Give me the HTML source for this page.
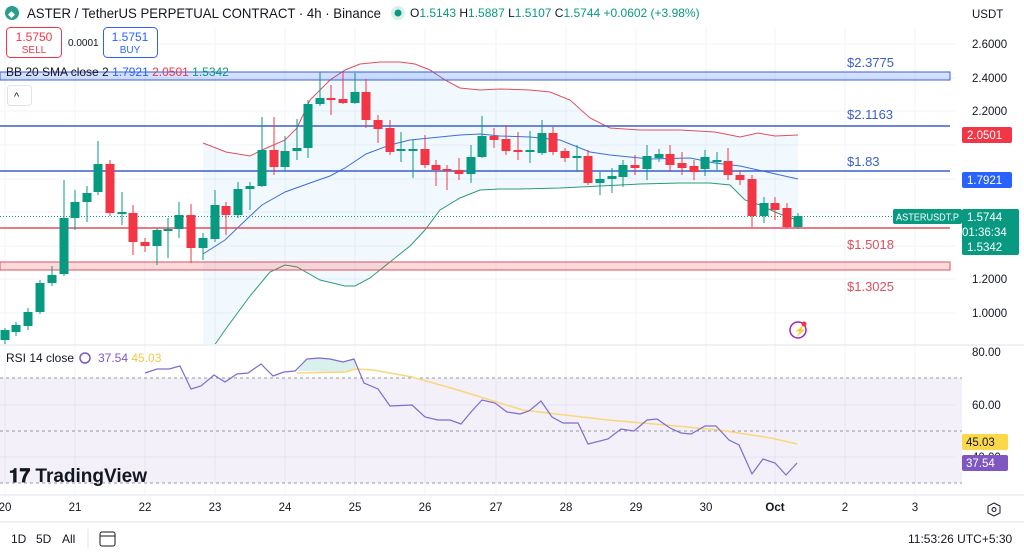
<!DOCTYPE html>
<html><head><meta charset="utf-8"><style>
body{margin:0;width:1024px;height:554px;overflow:hidden;background:#fff;font-family:"Liberation Sans",sans-serif;}
svg{position:absolute;left:0;top:0}
</style></head><body>
<svg id="s" width="1024" height="554" xmlns="http://www.w3.org/2000/svg" font-family="Liberation Sans, sans-serif">
<g stroke="#f0f3fa" stroke-width="1">
<line x1="5" y1="28" x2="5" y2="495"/><line x1="75" y1="28" x2="75" y2="495"/><line x1="145" y1="28" x2="145" y2="495"/><line x1="215" y1="28" x2="215" y2="495"/><line x1="285" y1="28" x2="285" y2="495"/><line x1="355" y1="28" x2="355" y2="495"/><line x1="425" y1="28" x2="425" y2="495"/><line x1="496" y1="28" x2="496" y2="495"/><line x1="566" y1="28" x2="566" y2="495"/><line x1="636" y1="28" x2="636" y2="495"/><line x1="706" y1="28" x2="706" y2="495"/><line x1="775" y1="28" x2="775" y2="495"/><line x1="845" y1="28" x2="845" y2="495"/><line x1="915" y1="28" x2="915" y2="495"/>
<line x1="0" y1="44" x2="955" y2="44"/><line x1="0" y1="78" x2="955" y2="78"/><line x1="0" y1="111" x2="955" y2="111"/><line x1="0" y1="145" x2="955" y2="145"/><line x1="0" y1="179" x2="955" y2="179"/><line x1="0" y1="212" x2="955" y2="212"/><line x1="0" y1="246" x2="955" y2="246"/><line x1="0" y1="279" x2="955" y2="279"/><line x1="0" y1="313" x2="955" y2="313"/>
<line x1="0" y1="405" x2="955" y2="405"/><line x1="0" y1="457" x2="955" y2="457"/>
</g>
<line x1="0" y1="345" x2="1024" y2="345" stroke="#e0e3eb"/>
<line x1="0" y1="495" x2="1024" y2="495" stroke="#e0e3eb"/>
<line x1="0" y1="522" x2="1024" y2="522" stroke="#e0e3eb"/>
<g id="bb"></g>
<rect x="0" y="72" width="950" height="8" fill="#2962ff" fill-opacity="0.2" stroke="#3a5fcd" stroke-width="1"/>
<line x1="0" y1="126" x2="950" y2="126" stroke="#3a5fcd" stroke-width="1.5"/>
<line x1="0" y1="171" x2="950" y2="171" stroke="#3a5fcd" stroke-width="1.5"/>
<line x1="0" y1="228" x2="950" y2="228" stroke="#e0505c" stroke-width="1.5"/>
<rect x="0" y="262" width="950" height="8" fill="#f23645" fill-opacity="0.18" stroke="#e0505c" stroke-width="1"/>
<line x1="0" y1="216.5" x2="955" y2="216.5" stroke="#089981" stroke-dasharray="1,2" stroke-width="1"/>
<g id="c"></g>
<g font-size="13" >
<text x="847" y="67" fill="#3a5fcd">$2.3775</text>
<text x="847" y="119" fill="#3a5fcd">$2.1163</text>
<text x="847" y="166" fill="#3a5fcd">$1.83</text>
<text x="847" y="249" fill="#e0505c">$1.5018</text>
<text x="847" y="291" fill="#e0505c">$1.3025</text>
</g>
<!-- RSI -->
<rect x="0" y="378" width="962" height="105" fill="#7e57c2" fill-opacity="0.09"/>
<g stroke="#9598a1" stroke-dasharray="3,3"><line x1="0" y1="378" x2="962" y2="378"/><line x1="0" y1="431" x2="962" y2="431"/><line x1="0" y1="483" x2="962" y2="483"/></g>
<polygon points="297,371 307,359 319,358 330,359 343,362 354,359 356,369 346,372" fill="#089981" fill-opacity="0.15"/>
<polyline fill="none" stroke="#fbd77a" stroke-width="1.5" points="297,373 346,372 356,369 373,370 412,377 458,390 490,400 523,410 556,414 608,420 654,424 719,430 771,438 797,444"/>
<polyline fill="none" stroke="#7e6ccf" stroke-width="1.2" points="145,373 157,369 169,369 180,366 191,389 201,386 214,375 225,382 237,374 248,373 261,364 273,376 284,372 295,371 307,359 319,358 330,359 343,362 354,359 364,383 378,389 390,406 412,405 425,417 438,420 450,420 461,424 471,412 482,400 495,403 507,412 520,414 529,411 541,401 552,417 563,423 578,423 588,444 608,439 621,429 634,431 647,420 657,419 670,428 681,433 691,434 705,426 716,426 729,440 739,445 752,474 763,459 775,463 786,475 797,463"/>
<!-- right axis -->
<g font-size="11.5" fill="#131722">
<text x="972" y="18">USDT</text>
<text x="972" y="48">2.6000</text><text x="972" y="82">2.4000</text><text x="972" y="115">2.2000</text><text x="972" y="283">1.2000</text><text x="972" y="317">1.0000</text>
<text x="972" y="356">80.00</text><text x="972" y="409">60.00</text><text x="972" y="461">40.00</text>
</g>
<rect x="962" y="127" width="50" height="16" rx="2" fill="#f23645"/><text x="967" y="139" font-size="11.5" fill="#fff">2.0501</text>
<rect x="962" y="172" width="50" height="16" rx="2" fill="#2962ff"/><text x="967" y="184" font-size="11.5" fill="#fff">1.7921</text>
<rect x="893" y="209" width="69" height="15" rx="2" fill="#089981"/><text x="896" y="220.5" font-size="10" fill="#fff" textLength="63" lengthAdjust="spacingAndGlyphs">ASTERUSDT.P</text>
<rect x="962" y="209" width="57" height="46" rx="2" fill="#089981"/>
<text x="967" y="221" font-size="11.5" fill="#fff">1.5744</text><text x="962" y="236" font-size="11.5" fill="#fff">01:36:34</text><text x="967" y="251" font-size="11.5" fill="#fff">1.5342</text>
<rect x="962" y="434" width="46" height="16" rx="2" fill="#fbd84a"/><text x="966" y="446" font-size="11.5" fill="#131722">45.03</text>
<rect x="962" y="455" width="46" height="16" rx="2" fill="#7e57c2"/><text x="966" y="467" font-size="11.5" fill="#fff">37.54</text>
<circle cx="798" cy="330" r="8" fill="none" stroke="#9c27b0" stroke-width="1.5"/><text x="794" y="334" font-size="10" fill="#9c27b0">⚡</text><circle cx="804" cy="324" r="2.5" fill="#f23645"/>
<!-- time axis -->
<g font-size="11.5" fill="#131722" text-anchor="middle">
<text x="5" y="511">20</text><text x="75" y="511">21</text><text x="145" y="511">22</text><text x="215" y="511">23</text><text x="285" y="511">24</text><text x="355" y="511">25</text><text x="425" y="511">26</text><text x="496" y="511">27</text><text x="566" y="511">28</text><text x="636" y="511">29</text><text x="706" y="511">30</text><text x="775" y="511" font-weight="bold">Oct</text><text x="845" y="511">2</text><text x="915" y="511">3</text>
</g>
<polygon points="994,503 1000,506 1000,513 994,516 988,513 988,506" fill="none" stroke="#131722"/><circle cx="994" cy="509.5" r="2" fill="none" stroke="#131722"/>
<g font-size="12" fill="#131722"><text x="11" y="543">1D</text><text x="36" y="543">5D</text><text x="62" y="543">All</text><text x="908" y="543">11:53:26 UTC+5:30</text></g>
<line x1="88" y1="529" x2="88" y2="548" stroke="#e0e3eb"/>
<rect x="100" y="532" width="15" height="14" rx="2" fill="none" stroke="#131722"/><line x1="100" y1="536" x2="115" y2="536" stroke="#131722"/>
<text x="9" y="482" font-size="19" font-weight="bold" fill="#131722">𝟏𝟕 TradingView</text>
<!-- header -->
<circle cx="12" cy="13" r="7" fill="#2a9d8f"/><text x="8" y="17" font-size="9" fill="#fff">◆</text>
<text x="27" y="18" font-size="14" fill="#131722" textLength="354" lengthAdjust="spacingAndGlyphs">ASTER / TetherUS PERPETUAL CONTRACT · 4h · Binance</text>
<circle cx="398" cy="13" r="7" fill="#089981" fill-opacity="0.15"/><circle cx="398" cy="13" r="3.5" fill="#089981"/>
<text x="410" y="17" font-size="12" fill="#131722">O<tspan fill="#089981">1.5143</tspan> H<tspan fill="#089981">1.5887</tspan> L<tspan fill="#089981">1.5107</tspan> C<tspan fill="#089981">1.5744 +0.0602 (+3.98%)</tspan></text>
<rect x="6.5" y="27.5" width="55" height="30" rx="4" fill="#fff" stroke="#f23645"/>
<text x="34" y="41" font-size="12" fill="#f23645" text-anchor="middle">1.5750</text><text x="34" y="53" font-size="10" fill="#f23645" text-anchor="middle">SELL</text>
<text x="68" y="46" font-size="10" fill="#131722">0.0001</text>
<rect x="103.5" y="27.5" width="54" height="30" rx="4" fill="#fff" stroke="#2962ff"/>
<text x="130" y="41" font-size="12" fill="#2962ff" text-anchor="middle">1.5751</text><text x="130" y="53" font-size="10" fill="#2962ff" text-anchor="middle">BUY</text>
<text x="6" y="76" font-size="12" fill="#131722">BB 20 SMA close 2 <tspan fill="#2962ff">1.7921</tspan> <tspan fill="#f23645">2.0501</tspan> <tspan fill="#089981">1.5342</tspan></text>
<rect x="7.5" y="85.5" width="24" height="20" rx="3" fill="#fff" stroke="#e0e3eb"/><text x="14" y="100" font-size="11" fill="#131722">^</text>
<text x="6" y="362" font-size="12" fill="#131722">RSI 14 close</text>
<circle cx="85" cy="358" r="5" fill="none" stroke="#7e57c2" stroke-width="1.5"/>
<text x="98" y="362" font-size="12" fill="#7e57c2">37.54 <tspan fill="#f2c94c">45.03</tspan></text>
</svg>
<script>
var up=[[203,143],[226,152],[250,156],[262,150],[285,140],[297,128],[310,100],[330,80],[345,70],[360,64],[380,62],[400,62],[415,64],[430,70],[445,80],[460,88],[480,90],[500,89],[530,90],[550,92],[570,100],[590,118],[610,128],[640,130],[680,130],[715,132],[740,137],[758,133],[775,136],[798,135]];
var mid=[[203,254],[225,240],[250,216],[262,205],[285,192],[310,183],[330,176],[345,168],[366,154],[390,145],[410,140],[430,138],[460,135],[480,134],[500,136],[530,137],[560,140],[590,152],[610,155],[650,159],[690,158],[715,163],[740,166],[758,170],[780,175],[798,179]];
var lo=[[203,360],[216,343],[225,330],[250,296],[270,272],[285,265],[297,267],[320,280],[345,286],[355,286],[370,278],[390,262],[410,246],[425,230],[440,210],[460,198],[480,190],[500,189],[520,189],[560,188],[600,186],[640,184],[680,183],[710,183],[730,185],[745,200],[760,205],[775,212],[790,218],[798,220]];
function p(a){return a.map(function(q){return q.join(',')}).join(' ')}
var ns='http://www.w3.org/2000/svg',bb=document.getElementById('bb');
function el(t,at,par){var e=document.createElementNS(ns,t);for(var k in at)e.setAttribute(k,at[k]);par.appendChild(e);return e}
var cl=document.createElementNS(ns,'clipPath');cl.id='cp';el('rect',{x:0,y:28,width:960,height:316},cl);bb.appendChild(cl);
var g=el('g',{'clip-path':'url(#cp)'},bb);
el('polygon',{points:p(up)+' '+p(lo.slice().reverse()),fill:'#2196f3','fill-opacity':'0.06'},g);
el('polyline',{points:p(up),fill:'none',stroke:'#e0505c','stroke-width':1},g);
el('polyline',{points:p(mid),fill:'none',stroke:'#3a6fd8','stroke-width':1},g);
el('polyline',{points:p(lo),fill:'none',stroke:'#2e9a72','stroke-width':1},g);
var C=[[5,340,330,328,344],[16,332,325,322,336],[28,326,312,308,330],[40,312,283,280,314],[52,283,275,266,286],[64,274,218,180,276],[75,218,202,190,230],[87,202,193,186,222],[98,192,164,141,195],[110,164,213,160,216],[122,213,212,192,225],[133,213,242,205,255],[145,242,246,238,252],[157,246,230,228,265],[168,230,229,218,258],[179,229,215,202,238],[191,215,248,204,263],[203,248,238,233,260],[215,239,205,190,242],[226,206,215,202,235],[238,215,189,182,218],[250,189,186,182,210],[262,186,150,117,187],[274,150,167,117,175],[285,167,151,136,170],[297,151,148,119,160],[308,148,104,100,158],[320,104,98,72,106],[331,98,100,85,115],[343,99,103,72,104],[355,103,92,73,104],[366,92,120,79,128],[378,120,129,115,143],[390,128,152,120,155],[401,150,149,132,162],[413,150,149,140,178],[425,149,165,135,168],[436,165,170,160,186],[447,169,171,165,190],[459,170,174,158,180],[471,174,157,145,183],[482,157,136,116,158],[494,136,140,128,148],[506,139,151,125,155],[518,150,152,132,160],[530,151,150,131,163],[542,153,133,120,155],[553,133,152,127,155],[565,151,158,148,162],[577,157,156,145,172],[588,156,183,150,185],[600,183,179,172,195],[612,179,176,168,193],[623,177,165,160,187],[635,165,168,155,175],[647,169,156,145,180],[659,158,154,149,162],[670,154,165,145,172],[682,163,168,152,175],[694,166,172,160,180],[705,169,157,150,176],[717,161,160,152,170],[728,161,175,148,180],[740,175,180,170,185],[752,179,216,175,227],[764,216,203,197,223],[775,203,210,197,220],[787,208,227,203,228],[798,227,216,213,229]];
var cg=document.getElementById('c');
C.forEach(function(d){var col=d[2]<=d[1]?'#089981':'#f23645';
el('line',{x1:d[0],x2:d[0],y1:d[3],y2:d[4],stroke:col,'stroke-width':1},cg);
var t=Math.min(d[1],d[2]),h=Math.max(2,Math.abs(d[2]-d[1]));el('rect',{x:d[0]-4.5,y:t,width:9,height:h,fill:col},cg);});
</script>
</body></html>
